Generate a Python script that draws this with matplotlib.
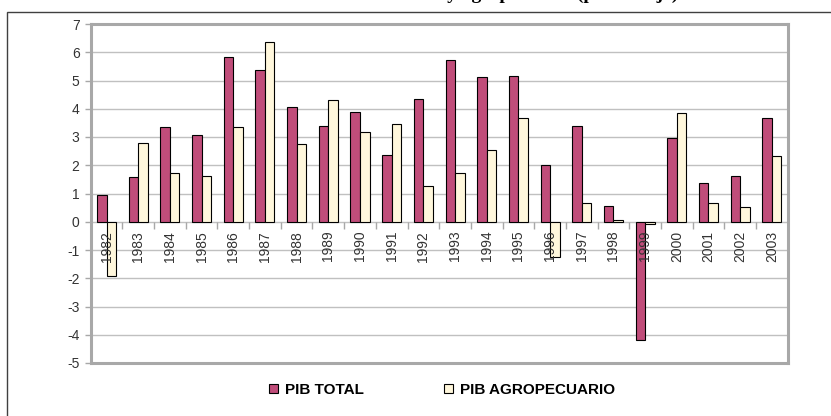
import numpy as np
import matplotlib
matplotlib.use("Agg")
import matplotlib.pyplot as plt
from matplotlib.patches import Rectangle, Patch
from matplotlib.lines import TICKDOWN
import matplotlib.transforms as mtransforms

years = [str(y) for y in range(1982, 2004)]
pib_total = [0.93, 1.58, 3.34, 3.08, 5.82, 5.37, 4.05, 3.40, 3.89, 2.38, 4.35,
             5.72, 5.11, 5.17, 2.02, 3.40, 0.55, -4.20, 2.95, 1.37, 1.63, 3.66]
pib_agro = [-1.92, 2.80, 1.72, 1.63, 3.34, 6.38, 2.74, 4.32, 3.19, 3.45, 1.26,
            1.72, 2.53, 3.69, -1.26, 0.67, 0.05, -0.07, 3.85, 0.67, 0.51, 2.34]
series_names = ["PIB TOTAL", "PIB AGROPECUARIO"]
title_text = "Crecimiento del PIB total y agropecuario (porcentaje)"
y_ticks = list(range(-5, 8))

C_TOTAL = "#C04D7A"
C_AGRO = "#FFF7DC"
GRID = "#C0C0C0"
FRAME = "#A8A8A8"
TXT = "#333333"

W, H = 831, 416
fig = plt.figure(figsize=(W / 100, H / 100), dpi=100)
plt.rcParams['font.family'] = ['Liberation Sans', 'DejaVu Sans']

# outer chart frame
fig.patches.append(Rectangle((6.5 / W, -0.1), 1.2, 1 - 12 / H + 0.1,
                             transform=fig.transFigure, fill=False,
                             edgecolor="#404040", linewidth=1.0))

# title, clipped at the top edge as in the reference
fig.text(678 / W, 1 + 1.5 / H, title_text, ha='right', va='baseline',
         fontsize=14, fontweight='bold', family=['Liberation Serif', 'DejaVu Serif'])

left, right = 90.7 / W, 787.7 / W
bottom, top = 1 - 363 / H, 1 - 24 / H
ax = fig.add_axes([left, bottom, right - left, top - bottom])

x = np.arange(len(years))
w = 0.3
ax.bar(x - w / 2, pib_total, width=w, color=C_TOTAL, edgecolor='black',
       linewidth=0.8, zorder=3)
ax.bar(x + w / 2, pib_agro, width=w, color=C_AGRO, edgecolor='black',
       linewidth=0.8, zorder=3)

ax.set_xlim(-0.5, len(years) - 0.5)
ax.set_ylim(-5, 7)
ax.set_yticks(y_ticks)
ax.set_yticklabels([str(t) for t in y_ticks], fontsize=10, color=TXT)
ax.tick_params(axis='y', length=4, width=1, color=FRAME, pad=4)
ax.set_xticks([])

for yv in y_ticks:
    ax.axhline(yv, color=GRID, linewidth=1.0, zorder=1)

for s in ax.spines.values():
    s.set_color(FRAME)
    s.set_linewidth(2.2)

# category ticks on zero line
bounds = np.arange(0.5, len(years) - 0.5, 1.0)
ax.plot(bounds, np.zeros_like(bounds), linestyle='none', marker=TICKDOWN,
        markersize=5, markeredgewidth=1, color=FRAME, zorder=2, clip_on=False)

# year labels below zero line
off = mtransforms.offset_copy(ax.transData, fig=fig, x=0, y=-9, units='dots')
for xi, lab in zip(x, years):
    ax.text(xi, 0, lab, transform=off, rotation=90, ha='center', va='top',
            fontsize=10, color=TXT, zorder=5)

handles = [Patch(facecolor=C_TOTAL, edgecolor='black', linewidth=0.8),
           Patch(facecolor=C_AGRO, edgecolor='black', linewidth=0.8)]
leg = fig.legend(handles, series_names, loc='center', bbox_to_anchor=(442 / W, 1 - 390 / H),
                 ncol=2, frameon=False, handlelength=0.6, handleheight=0.6,
                 handletextpad=0.45, columnspacing=5.2,
                 prop={'weight': 'bold', 'size': 11})

fig.savefig("out.png", dpi=100)
